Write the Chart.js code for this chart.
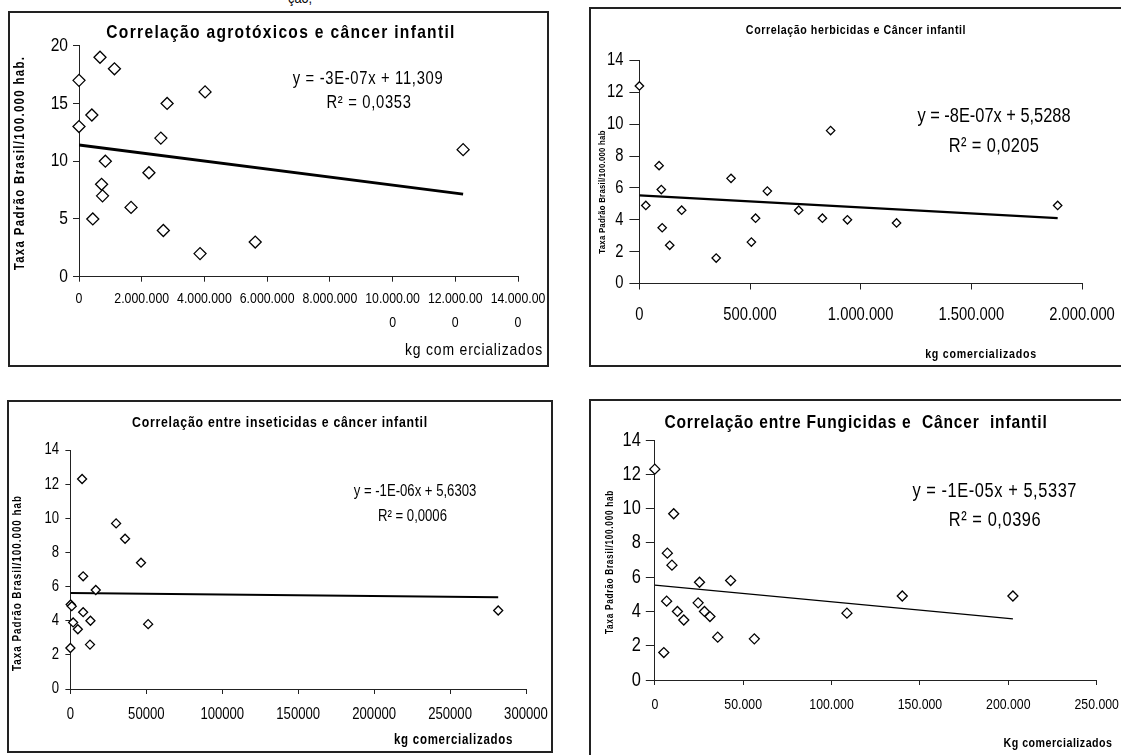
<!DOCTYPE html>
<html>
<head>
<meta charset="utf-8">
<script src="https://cdn.jsdelivr.net/npm/chart.js@4.4.1/dist/chart.umd.min.js"></script>
<style>
  body { margin: 0; background: #fff; width: 1121px; height: 755px; overflow: hidden; position: relative; }
  .box { position: absolute; box-sizing: border-box; border: 2px solid #222; }
  .box canvas { position: absolute; left: -2px; top: -2px; }
  .frag { position: absolute; left: 288px; top: -11px; font: 15px 'Liberation Sans', Arial, sans-serif; transform: scaleX(0.85); transform-origin: left; }
</style>
</head>
<body>
<div class="frag">ção,</div>
<div class="box" style="left:8px;top:11px;width:541px;height:356px"><canvas id="agro" width="541" height="356"></canvas></div>
<div class="box" style="left:589px;top:7px;width:536px;height:360px"><canvas id="herb" width="536" height="360"></canvas></div>
<div class="box" style="left:7px;top:400px;width:546px;height:353px"><canvas id="inse" width="546" height="353"></canvas></div>
<div class="box" style="left:589px;top:399px;width:536px;height:358px"><canvas id="fung" width="536" height="358"></canvas></div>
<script>
// agrotóxicos (total)
const agroKg   = [0, 0, 410000, 670000, 1130000, 840000, 720000, 750000, 440000, 1660000, 2230000, 2610000, 2810000, 2690000, 4020000, 3860000, 5620000, 12250000];
const agroTaxa = [17, 13, 14, 19, 18, 10, 8, 7, 5, 6, 9, 12, 15, 4, 16, 2, 3, 11];
const agroTrendKg   = [0, 12250000];
const agroTrendTaxa = [11.4, 7.15];
const agroXTicks = ['0', '2.000.000', '4.000.000', '6.000.000', '8.000.000', ['10.000.00', '0'], ['12.000.00', '0'], ['14.000.00', '0']];
const agroYTicks = ['0', '5', '10', '15', '20'];

// herbicidas
const herbKg   = [0, 89000, 99000, 414000, 578000, 864000, 29000, 191000, 103000, 137000, 347000, 506000, 525000, 720000, 827000, 940000, 1162000, 1890000];
const herbTaxa = [12.4, 7.4, 5.9, 6.6, 5.8, 9.6, 4.9, 4.6, 3.5, 2.4, 1.6, 2.6, 4.1, 4.6, 4.1, 4.0, 3.8, 4.9];
const herbTrendKg   = [0, 1890000];
const herbTrendTaxa = [5.53, 4.1];
const herbXTicks = ['0', '500.000', '1.000.000', '1.500.000', '2.000.000'];
const herbYTicks = ['0', '2', '4', '6', '8', '10', '12', '14'];

// inseticidas
const inseKg   = [7700, 30100, 36000, 46500, 8400, 16700, 200, 900, 8400, 1800, 4900, 13200, 51200, 12900, 0, 281700];
const inseTaxa = [12.3, 9.7, 8.8, 7.4, 6.6, 5.8, 4.95, 4.85, 4.5, 3.9, 3.5, 4.0, 3.8, 2.6, 2.4, 4.6];
const inseTrendKg   = [0, 281700];
const inseTrendTaxa = [5.63, 5.38];
const inseXTicks = ['0', '50000', '100000', '150000', '200000', '250000', '300000'];
const inseYTicks = ['0', '2', '4', '6', '8', '10', '12', '14'];

// fungicidas
const fungKg   = [0, 10700, 7100, 9700, 25300, 42900, 6700, 24500, 12800, 28100, 31200, 16400, 35600, 56300, 5100, 108700, 140000, 202600];
const fungTaxa = [12.3, 9.7, 7.4, 6.7, 5.7, 5.8, 4.6, 4.5, 4.0, 4.0, 3.7, 3.5, 2.5, 2.4, 1.6, 3.9, 4.9, 4.9];
const fungTrendKg   = [0, 202600];
const fungTrendTaxa = [5.53, 3.56];
const fungXTicks = ['0', '50.000', '100.000', '150.000', '200.000', '250.000'];
const fungYTicks = ['0', '2', '4', '6', '8', '10', '12', '14'];

const FAM = "'Liberation Sans', Arial, sans-serif";
const NARROW = 0.82; // no Arial Narrow here, so squeeze the text horizontally

function pairs(xs, ys) { return xs.map((x, i) => ({ x: x, y: ys[i] })); }

// squeeze every text the chart writes, around its anchor point
const narrowText = {
  id: 'narrowText',
  beforeInit(chart) {
    const ctx = chart.ctx;
    const fill = CanvasRenderingContext2D.prototype.fillText;
    ctx.fillText = function (t, x, y, maxW) {
      this.save();
      this.translate(x, y);
      this.scale(NARROW, 1);
      if (maxW === undefined) fill.call(this, t, 0, 0);
      else fill.call(this, t, 0, 0, maxW / NARROW);
      this.restore();
    };
  }
};

function makeChart(id, c) {
  const canvas = document.getElementById(id);
  const w = canvas.width, h = canvas.height;
  // title, equation and axis titles
  const notes = {
    id: 'notes',
    afterDraw(chart) {
      const ctx = chart.ctx;
      c.notes.forEach(n => {
        ctx.save();
        ctx.font = n.font + ' ' + FAM;
        ctx.fillStyle = '#000';
        ctx.letterSpacing = n.ls || '0px';
        ctx.textAlign = n.align || 'center';
        ctx.textBaseline = 'middle';
        ctx.translate(n.x, n.y);
        if (n.rot) ctx.rotate(-Math.PI / 2);
        ctx.fillText(n.text, 0, 0);
        ctx.restore();
      });
    }
  };
  return new Chart(canvas.getContext('2d'), {
    type: 'scatter',
    data: {
      datasets: [{
        data: pairs(c.xs, c.ys),
        pointStyle: 'rectRot',
        pointRadius: c.r,
        pointBackgroundColor: '#fff',
        pointBorderColor: '#000',
        pointBorderWidth: 1.3,
        clip: false
      }, {
        type: 'line',
        data: pairs(c.tx, c.ty),
        borderColor: '#000',
        borderWidth: c.lw,
        pointRadius: 0,
        fill: false
      }]
    },
    options: {
      responsive: false,
      animation: false,
      devicePixelRatio: 1,
      layout: { padding: { left: 0, top: c.area.t, right: w - c.area.r, bottom: 0 } },
      plugins: { legend: { display: false }, tooltip: { enabled: false } },
      scales: {
        x: {
          type: 'linear', min: 0, max: c.xMax,
          grid: { drawOnChartArea: false, drawTicks: true, tickLength: c.xtl, color: '#222' },
          border: { color: '#222', width: 1 },
          ticks: {
            stepSize: c.xStep, autoSkip: false, maxRotation: 0, padding: c.xpad, color: '#000',
            font: { family: FAM, size: c.xfs, lineHeight: c.xlh || 1.2 },
            callback: (v, i) => c.xLabels[i]
          },
          afterFit: s => { s.height = h - c.area.b; s.paddingLeft = 0; s.paddingRight = 0; }
        },
        y: {
          type: 'linear', min: 0, max: c.yMax,
          grid: { drawOnChartArea: false, drawTicks: true, tickLength: c.ytl, color: '#222' },
          border: { color: '#222', width: 1 },
          ticks: {
            stepSize: c.yStep, autoSkip: false, padding: c.ypad, color: '#000',
            font: { family: FAM, size: c.yfs },
            callback: (v, i) => c.yLabels[i]
          },
          afterFit: s => { s.width = c.area.l; s.paddingTop = 0; s.paddingBottom = 0; }
        }
      }
    },
    plugins: [narrowText, notes]
  });
}

makeChart('agro', {
  xs: agroKg, ys: agroTaxa, tx: agroTrendKg, ty: agroTrendTaxa,
  xMax: 14000000, xStep: 2000000, xLabels: agroXTicks, yMax: 20, yStep: 5, yLabels: agroYTicks,
  area: { l: 71, r: 510, t: 34.7, b: 265.7 },
  xfs: 15, xlh: 1.6, xtl: 5, xpad: 5, yfs: 19, ytl: 6, ypad: 5, r: 6, lw: 3,
  notes: [
    { text: 'Correlação agrotóxicos e câncer infantil', font: 'bold 19px', x: 273, y: 22, ls: '1.6px' },
    { text: 'y = -3E-07x + 11,309', font: '18px', x: 360, y: 68, ls: '0.85px' },
    { text: 'R² = 0,0353', font: '18px', x: 361, y: 92, ls: '0.85px' },
    { text: 'Taxa Padrão Brasil/100.000 hab.', font: 'bold 14px', x: 12, y: 152, rot: true, ls: '1.6px' },
    { text: 'kg com ercializados', font: '17px', x: 535, y: 339, align: 'right', ls: '1px' }
  ]
});

makeChart('herb', {
  xs: herbKg, ys: herbTaxa, tx: herbTrendKg, ty: herbTrendTaxa,
  xMax: 2000000, xStep: 500000, xLabels: herbXTicks, yMax: 14, yStep: 2, yLabels: herbYTicks,
  area: { l: 50.4, r: 493, t: 53.5, b: 276.5 },
  xfs: 18, xtl: 6, xpad: 14.7, yfs: 18, ytl: 10, ypad: 6, r: 4.2, lw: 2.2,
  notes: [
    { text: 'Correlação herbicidas e Câncer infantil', font: 'bold 13px', x: 267, y: 23, ls: '0.7px' },
    { text: 'y = -8E-07x + 5,5288', font: '20px', x: 405, y: 109.7 },
    { text: 'R² = 0,0205', font: '20px', x: 405, y: 139.7, ls: '0.5px' },
    { text: 'Taxa Padrão Brasil/100.000 hab', font: 'bold 9.5px', x: 13, y: 185, rot: true, ls: '0.3px' },
    { text: 'kg comercializados', font: 'bold 13px', x: 392, y: 347, ls: '0.9px' }
  ]
});

makeChart('inse', {
  xs: inseKg, ys: inseTaxa, tx: inseTrendKg, ty: inseTrendTaxa,
  xMax: 300000, xStep: 50000, xLabels: inseXTicks, yMax: 14, yStep: 2, yLabels: inseYTicks,
  area: { l: 63.4, r: 519, t: 50, b: 289 },
  xfs: 16, xtl: 5, xpad: 11.4, yfs: 16, ytl: 5, ypad: 6.4, r: 4.5, lw: 2,
  notes: [
    { text: 'Correlação entre inseticidas e câncer infantil', font: 'bold 15px', x: 273, y: 23, ls: '0.9px' },
    { text: 'y = -1E-06x + 5,6303', font: '16px', x: 408, y: 91.7 },
    { text: 'R² = 0,0006', font: '16px', x: 405.5, y: 116.7 },
    { text: 'Taxa Padrão Brasil/100.000 hab', font: 'bold 12px', x: 11, y: 183, rot: true, ls: '1.2px' },
    { text: 'kg comercializados', font: 'bold 14px', x: 446.6, y: 340, ls: '0.9px' }
  ]
});

makeChart('fung', {
  xs: fungKg, ys: fungTaxa, tx: fungTrendKg, ty: fungTrendTaxa,
  xMax: 250000, xStep: 50000, xLabels: fungXTicks, yMax: 14, yStep: 2, yLabels: fungYTicks,
  area: { l: 65.8, r: 507.7, t: 41, b: 281 },
  xfs: 15, xtl: 5, xpad: 11, yfs: 20, ytl: 9, ypad: 5, r: 5, lw: 1.2,
  notes: [
    { text: 'Correlação entre Fungicidas e  Câncer  infantil', font: 'bold 19px', x: 267, y: 24, ls: '1px' },
    { text: 'y = -1E-05x + 5,5337', font: '20px', x: 405.7, y: 92.7, ls: '0.7px' },
    { text: 'R² = 0,0396', font: '20px', x: 406, y: 121, ls: '0.7px' },
    { text: 'Taxa Padrão Brasil/100.000 hab', font: 'bold 10px', x: 21, y: 163, rot: true, ls: '0.9px' },
    { text: 'Kg comercializados', font: 'bold 13px', x: 469, y: 344, ls: '0.6px' }
  ]
});
</script>
</body>
</html>
